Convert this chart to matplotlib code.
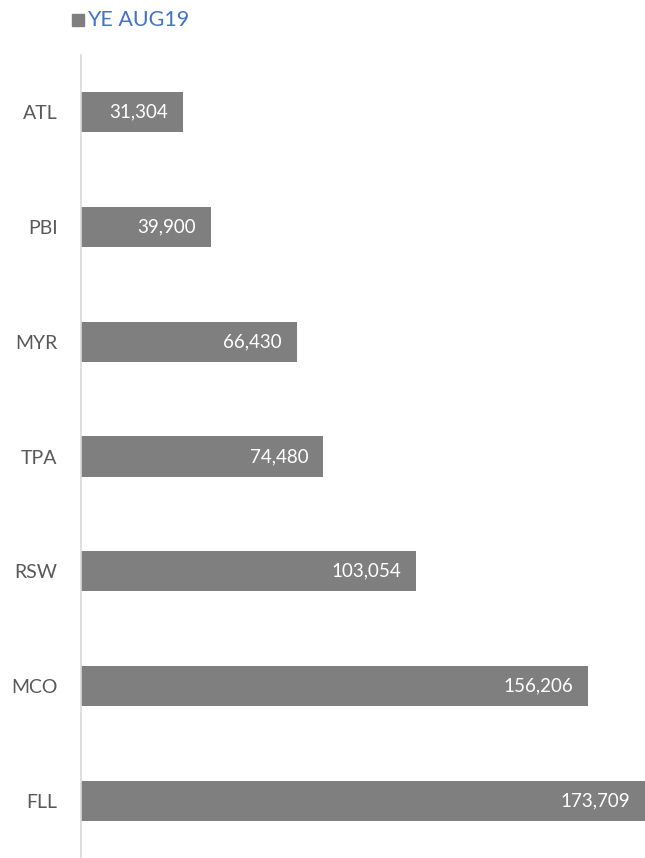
import matplotlib
matplotlib.use("Agg")
import matplotlib.pyplot as plt

categories = ["ATL", "PBI", "MYR", "TPA", "RSW", "MCO", "FLL"]
values = [31304, 39900, 66430, 74480, 103054, 156206, 173709]
series_name = "YE AUG19"

bar_color = "#7f7f7f"
plt.rcParams['font.family'] = ['Lato', 'DejaVu Sans']

fig = plt.figure(figsize=(6.45, 8.58), dpi=100)
ax = fig.add_axes([81/645, 0.0, 1 - 81/645, 1 - 55/858])

ypos = list(range(len(categories)))
bars = ax.barh(ypos, values, height=0.35, color=bar_color)
ax.set_ylim(len(categories) - 0.5, -0.5)
ax.set_xlim(0, max(values) * 1.0)

ax.set_yticks(ypos)
ax.set_yticklabels(categories, fontsize=14, color="#595959")
ax.tick_params(axis='y', length=0, pad=17)
ax.set_xticks([])
for s in ["top", "right", "bottom"]:
    ax.spines[s].set_visible(False)
ax.spines["left"].set_color("#d9d9d9")
ax.spines["left"].set_linewidth(1.2)

for b, v in zip(bars, values):
    ax.annotate(f"{v:,}", (b.get_width(), b.get_y() + b.get_height()/2),
                xytext=(-10.5, 0), textcoords="offset points",
                ha="right", va="center", color="white", fontsize=13.5)

# legend
fig.patches.append(plt.Rectangle((72/645, 1 - 26/858), 12/645, 12/858,
                                 transform=fig.transFigure, color=bar_color))
fig.text(87/645, 1 - 20/858, series_name, color="#4472c4", fontsize=15.5, va="center", ha="left")

fig.savefig("out.png", dpi=100)
